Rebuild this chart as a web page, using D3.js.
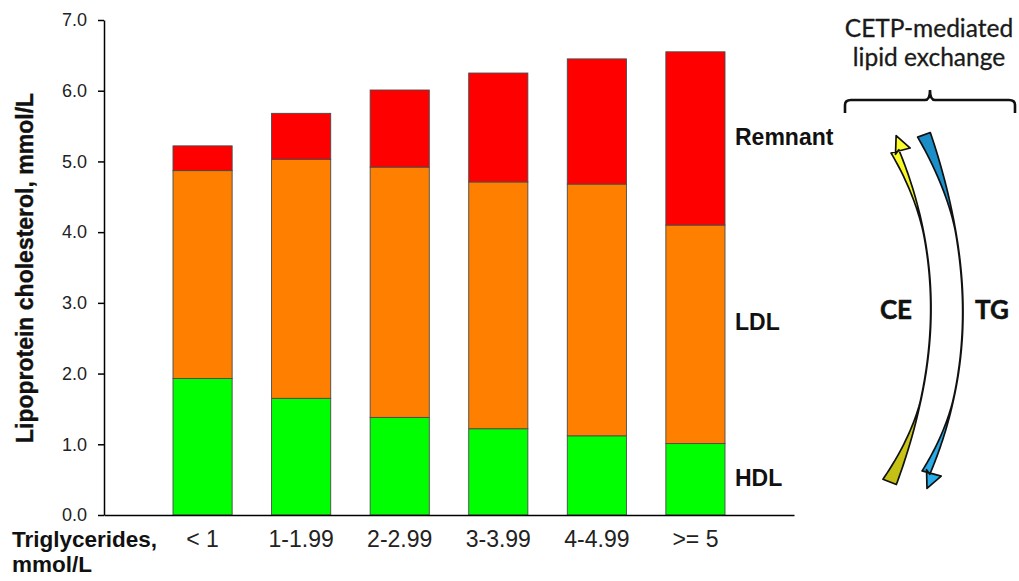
<!DOCTYPE html>
<html>
<head>
<meta charset="utf-8">
<script src="https://cdn.jsdelivr.net/npm/d3@7"></script>
<style>
  html, body { margin: 0; padding: 0; background: #fff; }
  svg { display: block; }
</style>
</head>
<body>
<svg id="chart" width="1019" height="581"></svg>
<script>
// ---- data ----
const categories = ["< 1", "1-1.99", "2-2.99", "3-3.99", "4-4.99", ">= 5"];
const hdl     = [1.93, 1.65, 1.38, 1.22, 1.12, 1.01];
const ldl     = [2.94, 3.38, 3.54, 3.49, 3.56, 3.09];
const remnant = [0.35, 0.65, 1.09, 1.54, 1.77, 2.45];
const seriesKeys = ["HDL", "LDL", "Remnant"];
const seriesColors = ["#00FF00", "#FF8000", "#FF0000"];
const yTicks = [0, 1, 2, 3, 4, 5, 6, 7];

const svg = d3.select("#chart");
svg.append("rect").attr("width", 1019).attr("height", 581).attr("fill", "#fff");

const table = categories.map((c, i) => ({ cat: c, HDL: hdl[i], LDL: ldl[i], Remnant: remnant[i] }));
const stacked = d3.stack().keys(seriesKeys)(table);

const x = d3.scaleBand().domain(categories).range([104, 794]).paddingInner(0.4).paddingOuter(0.7);
const y = d3.scaleLinear().domain([0, 7]).range([515, 20]);
const color = d3.scaleOrdinal().domain(seriesKeys).range(seriesColors);

// bars
svg.append("g").selectAll("g").data(stacked).join("g")
  .attr("fill", d => color(d.key))
  .selectAll("rect").data(d => d).join("rect")
  .attr("x", d => x(d.data.cat))
  .attr("y", d => y(d[1]))
  .attr("width", x.bandwidth())
  .attr("height", d => y(d[0]) - y(d[1]))
  .attr("stroke", "#4a4a4a")
  .attr("stroke-width", 0.9);

// y axis
const yAxis = svg.append("g").attr("transform", "translate(104,0)")
  .call(d3.axisLeft(y).tickValues(yTicks).tickFormat(d3.format(".1f")).tickSize(6).tickSizeOuter(0).tickPadding(11));
yAxis.selectAll("text").attr("font-family", "Liberation Sans, Arial, sans-serif").attr("font-size", 18).attr("fill", "#222");
yAxis.selectAll("line, path").attr("stroke", "#000").attr("stroke-width", 1.5);

// x axis
const xAxis = svg.append("g").attr("transform", "translate(0,515)")
  .call(d3.axisBottom(x).tickSize(0).tickSizeOuter(0).tickPadding(16));
xAxis.selectAll("text").attr("font-family", "Liberation Sans, Arial, sans-serif").attr("font-size", 23).attr("fill", "#222");
xAxis.select("path").attr("stroke", "#000").attr("stroke-width", 1.5);

// axis titles
svg.append("text")
  .attr("transform", "translate(33,268) rotate(-90)")
  .attr("text-anchor", "middle")
  .attr("font-family", "Liberation Sans, Arial, sans-serif").attr("font-weight", "bold")
  .attr("font-size", 23).attr("fill", "#111")
  .attr("stroke", "#111").attr("stroke-width", 0.4)
  .text("Lipoprotein cholesterol, mmol/L");

const xt = svg.append("text")
  .attr("font-family", "Liberation Sans, Arial, sans-serif").attr("font-weight", "bold")
  .attr("font-size", 22.5).attr("fill", "#111");
xt.append("tspan").attr("x", 12).attr("y", 547).text("Triglycerides,");
xt.append("tspan").attr("x", 12).attr("y", 572).text("mmol/L");

// series labels on the right
const labelPos = [486, 330, 145];
seriesKeys.forEach((k, i) => {
  svg.append("text").attr("x", 735).attr("y", labelPos[i])
    .attr("font-family", "Liberation Sans, Arial, sans-serif").attr("font-weight", "bold")
    .attr("font-size", 23).attr("fill", "#111").text(k);
});

// ---- CETP annotation ----
const ann = svg.append("text").attr("text-anchor", "middle")
  .attr("font-family", "Lato, 'Open Sans', sans-serif").attr("font-size", 24.5).attr("fill", "#1a1a1a")
  .attr("stroke", "#1a1a1a").attr("stroke-width", 0.3);
ann.append("tspan").attr("x", 929).attr("y", 37).text("CETP-mediated");
ann.append("tspan").attr("x", 929).attr("y", 66).text("lipid exchange");

// brace
const bx0 = 845, bx1 = 1015, bmid = 930, by = 100;
svg.append("path")
  .attr("d", `M${bx0},${by + 13} L${bx0},${by + 5} Q${bx0},${by} ${bx0 + 6},${by} L${bmid - 5},${by} Q${bmid},${by} ${bmid},${by - 10} Q${bmid},${by} ${bmid + 5},${by} L${bx1 - 6},${by} Q${bx1},${by} ${bx1},${by + 5} L${bx1},${by + 13}`)
  .attr("fill", "none").attr("stroke", "#111").attr("stroke-width", 2.6);

// curved arrows
const defs = svg.append("defs");
const gy = defs.append("linearGradient").attr("id", "gy").attr("x1", 0).attr("y1", 0).attr("x2", 0).attr("y2", 1);
gy.append("stop").attr("offset", 0).attr("stop-color", "#FFFF2A");
gy.append("stop").attr("offset", 1).attr("stop-color", "#C2BE14");
const gb = defs.append("linearGradient").attr("id", "gb").attr("x1", 0).attr("y1", 0).attr("x2", 0).attr("y2", 1);
gb.append("stop").attr("offset", 0).attr("stop-color", "#1A8CC6");
gb.append("stop").attr("offset", 1).attr("stop-color", "#2AAEEB");

function crescent(P0, mid, P2, wTop, wMid, wBot, headAt) {
  const C = [2 * mid[0] - (P0[0] + P2[0]) / 2, 2 * mid[1] - (P0[1] + P2[1]) / 2];
  const pt = t => [(1 - t) * (1 - t) * P0[0] + 2 * (1 - t) * t * C[0] + t * t * P2[0],
                   (1 - t) * (1 - t) * P0[1] + 2 * (1 - t) * t * C[1] + t * t * P2[1]];
  const tan = t => {
    const dx = 2 * (1 - t) * (C[0] - P0[0]) + 2 * t * (P2[0] - C[0]);
    const dy = 2 * (1 - t) * (C[1] - P0[1]) + 2 * t * (P2[1] - C[1]);
    const l = Math.hypot(dx, dy); return [dx / l, dy / l];
  };
  const w = t => wMid + wTop * Math.pow(Math.max(0, 1 - t / 0.27), 1.6) + wBot * Math.pow(Math.max(0, (t - 0.76) / 0.24), 1.6);
  const N = 100, left = [], right = [];
  for (let i = 0; i <= N; i++) {
    const t = i / N, p = pt(t), d = tan(t), n = [-d[1], d[0]], h = w(t);
    left.push([p[0] + n[0] * h * 0.9, p[1] + n[1] * h * 0.9]);
    right.push([p[0] - n[0] * h * 0.1, p[1] - n[1] * h * 0.1]);
  }
  const pts = [];
  function head(t, sign) {
    const p = pt(t), d0 = tan(t), d = [d0[0] * sign, d0[1] * sign], n = [-d[1], d[0]];
    const off = sign > 0 ? -1 : 1;
    const base = [p[0] + n[0] * off * 4, p[1] + n[1] * off * 4];
    return [
      [base[0] + n[0] * 8 - d[0] * 3, base[1] + n[1] * 8 - d[1] * 3],
      [base[0] + d[0] * 14, base[1] + d[1] * 14],
      [base[0] - n[0] * 8 - d[0] * 3, base[1] - n[1] * 8 - d[1] * 3]
    ];
  }
  left.forEach(p => pts.push(p));
  if (headAt === "end") { const hh = head(1, 1); pts.push(hh[2], hh[1], hh[0]); }
  right.slice().reverse().forEach(p => pts.push(p));
  if (headAt === "start") { const hh = head(0, -1); pts.push(hh[2], hh[1], hh[0]); }
  return d3.line()(pts) + "Z";
}

svg.append("path")
  .attr("d", crescent([898, 150], [931, 312], [895, 484], 8, 0.4, 14, "start"))
  .attr("fill", "url(#gy)").attr("stroke", "#111").attr("stroke-width", 1.7).attr("stroke-linejoin", "round");
svg.append("path")
  .attr("d", crescent([929, 133], [963, 312], [929, 474], 13, 0.4, 8, "end"))
  .attr("fill", "url(#gb)").attr("stroke", "#111").attr("stroke-width", 1.7).attr("stroke-linejoin", "round");

// CE / TG labels
[["CE", 896], ["TG", 992]].forEach(([t, cx]) => {
  svg.append("text").attr("x", cx).attr("y", 319).attr("text-anchor", "middle")
    .attr("font-family", "Lato, 'Open Sans', sans-serif").attr("font-weight", "bold")
    .attr("font-size", 26).attr("fill", "#111").attr("stroke", "#111").attr("stroke-width", 0.5).text(t);
});
</script>
</body>
</html>
